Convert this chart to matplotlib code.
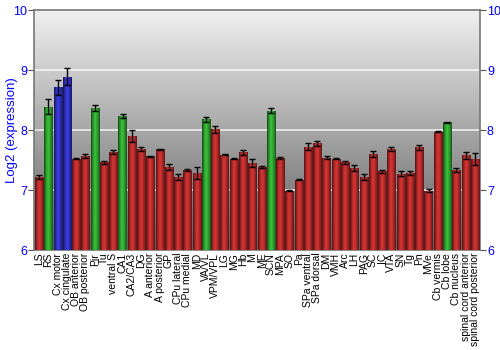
import numpy as np
import matplotlib
matplotlib.use('Agg')
import matplotlib.pyplot as plt
from matplotlib.colors import to_rgb

plt.rcParams['font.family'] = ['Liberation Sans', 'DejaVu Sans']

regions = ['LS', 'RS', 'Cx motor', 'Cx cingulate', 'OB anterior', 'OB posterior', 'Pir', 'Tu',
           'ventral S', 'CA1', 'CA2/CA3', 'DG', 'A anterior', 'A posterior', 'GP', 'CPu lateral',
           'CPu medial', 'MD', 'VA/VL', 'VPM/VPL', 'LG', 'MG', 'Hb', 'M', 'ME', 'SCN', 'MPA', 'SO',
           'Pa', 'SPa ventral', 'SPa dorsal', 'DM', 'VMH', 'Arc', 'LH', 'PAG', 'SC', 'IC', 'VTA',
           'SN', 'Tg', 'Pn', 'MVe', 'Cb vermis', 'Cb lobe', 'Cb nucleus',
           'spinal cord anterior', 'spinal cord posterior']
expression = [7.22, 8.39, 8.71, 8.89, 7.52, 7.57, 8.36, 7.46,
              7.63, 8.23, 7.90, 7.68, 7.56, 7.68, 7.39, 7.22,
              7.33, 7.28, 8.18, 8.01, 7.59, 7.52, 7.63, 7.45, 7.38, 8.32, 7.53, 6.99,
              7.17, 7.72, 7.78, 7.54, 7.52, 7.46, 7.36, 7.21, 7.60, 7.31, 7.68,
              7.27, 7.28, 7.71, 6.99, 7.97, 8.13, 7.33,
              7.58, 7.51]
errors = [0.03, 0.12, 0.12, 0.14, 0.01, 0.03, 0.05, 0.03,
          0.03, 0.03, 0.10, 0.03, 0.01, 0.01, 0.05, 0.05,
          0.02, 0.10, 0.04, 0.06, 0.01, 0.01, 0.04, 0.07, 0.02, 0.04, 0.02, 0.01,
          0.01, 0.06, 0.04, 0.03, 0.01, 0.02, 0.05, 0.05, 0.05, 0.03, 0.03,
          0.04, 0.03, 0.04, 0.02, 0.01, 0.01, 0.03,
          0.06, 0.10]
# r = red, g = green, b = blue
groups = ['r', 'g', 'b', 'b', 'r', 'r', 'g', 'r',
          'r', 'g', 'r', 'r', 'r', 'r', 'r', 'r',
          'r', 'r', 'g', 'r', 'r', 'r', 'r', 'r', 'r', 'g', 'r', 'r',
          'r', 'r', 'r', 'r', 'r', 'r', 'r', 'r', 'r', 'r', 'r',
          'r', 'r', 'r', 'r', 'r', 'g', 'r',
          'r', 'r']

base_colors = {'r': '#b02a2a', 'g': '#2e9e2e', 'b': '#3030b8'}

fig = plt.figure(figsize=(5, 3.5), dpi=100)
ax = fig.add_axes([0.068, 0.2857, 0.892, 0.6857])

# gray gradient background
grad = np.linspace(0, 1, 256).reshape(-1, 1)
bg = np.zeros((256, 1, 3))
top_c = np.array(to_rgb('#f0f0f0'))
bot_c = np.array(to_rgb('#5e5e5e'))
for i in range(3):
    bg[:, 0, i] = top_c[i] + (bot_c[i] - top_c[i]) * grad[:, 0]
ax.imshow(bg, extent=[0, 1, 0, 1], transform=ax.transAxes, aspect='auto', zorder=0)

for yv in [7, 8, 9]:
    ax.axhline(yv, color='white', linewidth=1.2, alpha=0.8, zorder=1)

x = np.arange(len(regions))
colors = [base_colors[g] for g in groups]
bars = ax.bar(x, np.array(expression) - 6, bottom=6, width=0.88, color=colors,
              edgecolor='none', zorder=2)

# cylinder-like shading on each bar
shade = np.array([0.55, 0.8, 1.0, 1.15, 1.2, 1.1, 0.95, 0.8, 0.6])
for b, c in zip(bars, colors):
    rgb = np.array(to_rgb(c))
    img = np.clip(shade.reshape(1, -1, 1) * rgb.reshape(1, 1, 3), 0, 1)
    im = ax.imshow(img, extent=[b.get_x(), b.get_x() + b.get_width(), 6, b.get_y() + b.get_height()],
                   aspect='auto', zorder=3, interpolation='bilinear')
    im.set_clip_path(b)

ax.errorbar(x, expression, yerr=errors, fmt='none', ecolor='black', elinewidth=1,
            capsize=2, capthick=1, zorder=4)

ax.set_xlim(-0.55, len(regions) - 0.45)
ax.set_ylim(6, 10)
ax.set_yticks([6, 7, 8, 9, 10])
ax.tick_params(axis='y', colors='#555555', labelcolor='blue', labelsize=9,
               left=True, right=True, labelleft=True, labelright=True, length=4, pad=1)
ax.set_xticks(x)
ax.set_xticklabels(regions, rotation=90, fontsize=7.5)
ax.tick_params(axis='x', length=0, pad=2)
ax.set_ylabel('Log2 (expression)', color='blue', fontsize=9.5)
ax.yaxis.set_label_coords(-0.036, 0.5)
for s in ax.spines.values():
    s.set_color('#777777')
    s.set_linewidth(1.2)

fig.savefig('out.png', dpi=100)
